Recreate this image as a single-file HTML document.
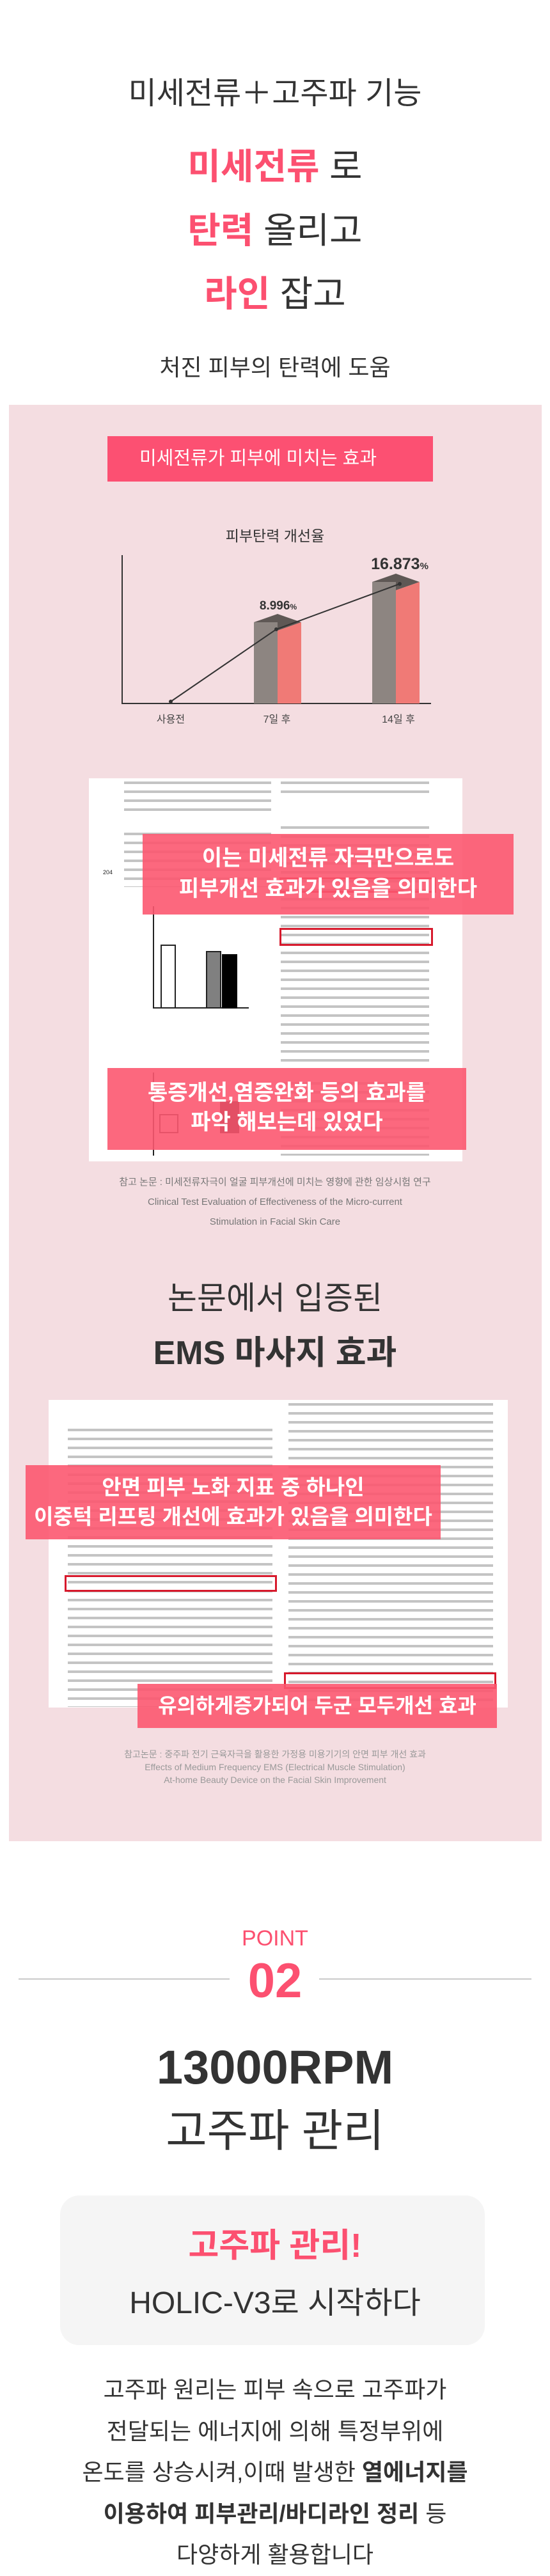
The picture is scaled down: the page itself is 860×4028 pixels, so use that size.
<!DOCTYPE html>
<html><head><meta charset="utf-8"><style>
*{margin:0;padding:0;box-sizing:border-box}
body{width:860px;height:4024px;background:#fff;position:relative;font-family:"Liberation Sans","Noto Sans CJK KR",sans-serif;color:#333;overflow:hidden}
.a{position:absolute}
.c{position:absolute;left:0;width:860px;text-align:center;white-space:nowrap}
.pk{color:#fc5070;font-weight:bold}
.paper{position:absolute;background:#fff}
.txt{position:absolute;background:repeating-linear-gradient(#fff 0 5px,#c4c4c4 5px 9px,#fff 9px 14px)}
.ov{position:absolute;background:rgba(252,88,112,0.9);color:#fff;font-weight:bold;text-align:center;white-space:nowrap}
.rb{position:absolute;border:3px solid #d7192c}
</style></head><body>
<div class="c" style="top:106px;font-size:48px;">미세전류＋고주파 기능</div>
<div class="c" style="top:228px;font-size:56px;line-height:66px"><span class="pk">미세전류</span> 로</div>
<div class="c" style="top:328px;font-size:56px;line-height:66px"><span class="pk">탄력</span> 올리고</div>
<div class="c" style="top:427px;font-size:56px;line-height:66px"><span class="pk">라인</span> 잡고</div>
<div class="c" style="top:546px;font-size:36px;">처진 피부의 탄력에 도움</div>

<div class="a" style="left:14px;top:633px;width:833px;height:2246px;background:#f4dde1"></div>
<div class="a" style="left:168px;top:682px;width:509px;height:71px;background:#fc5072;color:#fff;font-size:29px;line-height:71px;padding-left:50px">미세전류가 피부에 미치는 효과</div>
<div class="c" style="top:819px;font-size:23px;color:#333">피부탄력 개선율</div>
<svg class="a" style="left:0;top:860px" width="860" height="290">
<line x1="191" y1="8" x2="191" y2="240" stroke="#333" stroke-width="2"/>
<line x1="190" y1="240" x2="674" y2="240" stroke="#333" stroke-width="2"/>
<polygon points="397,113 434,100 471,113 434,126" fill="#5f5855"/>
<rect x="397" y="113" width="37" height="127" fill="#8d8581"/><polygon points="434,126 471,113 471,240 434,240" fill="#f07a76"/>
<polygon points="582,50 619,37 656,50 619,63" fill="#5f5855"/>
<rect x="582" y="50" width="37" height="190" fill="#8d8581"/><polygon points="619,63 656,50 656,240 619,240" fill="#f07a76"/>
<polyline points="267,237 432,124 625,53" fill="none" stroke="#333" stroke-width="2"/>
<circle cx="267" cy="237" r="3" fill="#333"/><circle cx="432" cy="124" r="3" fill="#333"/><circle cx="625" cy="53" r="3" fill="#333"/>
<text x="435" y="93" font-size="19" font-weight="bold" text-anchor="middle" fill="#333">8.996<tspan font-size="12">%</tspan></text>
<text x="625" y="30" font-size="25" font-weight="bold" text-anchor="middle" fill="#333">16.873<tspan font-size="15">%</tspan></text>
<text x="267" y="270" font-size="16" text-anchor="middle" fill="#444">사용전</text>
<text x="433" y="270" font-size="16" text-anchor="middle" fill="#444">7일 후</text>
<text x="623" y="270" font-size="16" text-anchor="middle" fill="#444">14일 후</text>
</svg>

<div class="paper" style="left:139px;top:1217px;width:584px;height:599px">
 <div class="txt" style="left:55px;top:0;width:230px;height:60px"></div>
 <div class="txt" style="left:300px;top:0;width:232px;height:30px"></div>
 <div class="txt" style="left:55px;top:80px;width:230px;height:90px"></div>
 <div class="txt" style="left:300px;top:70px;width:232px;height:380px"></div>
 <div class="a" style="left:100px;top:200px;width:150px;height:160px;border-left:2px solid #222;border-bottom:2px solid #222"></div>
 <div class="a" style="left:112px;top:260px;width:24px;height:100px;border:2px solid #222;background:#fff"></div>
 <div class="a" style="left:183px;top:270px;width:24px;height:90px;background:#808080;border:2px solid #222"></div>
 <div class="a" style="left:208px;top:275px;width:24px;height:85px;background:#000"></div>
 <div class="a" style="left:22px;top:142px;font-size:9px;color:#222">204</div>
 <div class="a" style="left:100px;top:460px;width:150px;height:130px;border-left:2px solid #222"></div>
 <div class="a" style="left:110px;top:525px;width:30px;height:30px;border:2px solid #222"></div>
 <div class="a" style="left:205px;top:505px;width:30px;height:50px;background:#000"></div>
 <div class="txt" style="left:300px;top:470px;width:232px;height:120px"></div>
 <div class="rb" style="left:298px;top:155px;width:245px;height:24px"></div>
 <div class="rb" style="left:298px;top:234px;width:240px;height:28px"></div>
</div>
<div class="ov" style="left:223px;top:1304px;width:580px;height:126px;font-size:34px;line-height:48px;padding-top:14px">이는 미세전류 자극만으로도<br>피부개선 효과가 있음을 의미한다</div>
<div class="ov" style="left:168px;top:1670px;width:561px;height:128px;font-size:34px;line-height:46px;padding-top:16px">통증개선,염증완화 등의 효과를<br>파악 해보는데 있었다</div>
<div class="c" style="top:1833px;font-size:15px;color:#777;line-height:31px">참고 논문 : 미세전류자극이 얼굴 피부개선에 미치는 영향에 관한 임상시험 연구<br>Clinical Test Evaluation of Effectiveness of the Micro-current<br>Stimulation in Facial Skin Care</div>

<div class="c" style="top:1990px;font-size:50px;color:#333">논문에서 입증된</div>
<div class="c" style="top:2073px;font-size:52px;font-weight:bold;color:#333">EMS 마사지 효과</div>

<div class="paper" style="left:76px;top:2189px;width:718px;height:481px">
 <div class="txt" style="left:30px;top:40px;width:320px;height:440px"></div>
 <div class="txt" style="left:375px;top:0;width:320px;height:480px"></div>
 <div class="rb" style="left:25px;top:274px;width:332px;height:26px"></div>
 <div class="rb" style="left:368px;top:426px;width:332px;height:26px"></div>
</div>
<div class="ov" style="left:40px;top:2291px;width:649px;height:116px;font-size:33px;line-height:46px;padding-top:12px">안면 피부 노화 지표 중 하나인<br>이중턱 리프팅 개선에 효과가 있음을 의미한다</div>
<div class="ov" style="left:215px;top:2633px;width:562px;height:69px;font-size:32px;line-height:69px">유의하게증가되어 두군 모두개선 효과</div>
<div class="c" style="top:2733px;font-size:14px;color:#999;line-height:20px">참고논문 : 중주파 전기 근육자극을 활용한 가정용 미용기기의 안면 피부 개선 효과<br>Effects of Medium Frequency EMS (Electrical Muscle Stimulation)<br>At-home Beauty Device on the Facial Skin Improvement</div>

<div class="a" style="left:29px;top:3094px;width:330px;height:1px;background:#999"></div>
<div class="a" style="left:499px;top:3094px;width:332px;height:1px;background:#999"></div>
<div class="c" style="top:3012px;font-size:34px;color:#fc5070;line-height:38px">POINT</div>
<div class="c" style="top:3055px;font-size:76px;color:#fc5070;font-weight:bold;line-height:86px">02</div>
<div class="c" style="top:3190px;font-size:74px;font-weight:bold;color:#333;line-height:86px">13000RPM</div>
<div class="c" style="top:3292px;font-size:70px;color:#333;line-height:80px">고주파 관리</div>

<div class="a" style="left:94px;top:3433px;width:664px;height:234px;background:#f5f5f5;border-radius:30px"></div>
<div class="c" style="top:3480px;font-size:52px;font-weight:bold;color:#fc5070;line-height:64px">고주파 관리!</div>
<div class="c" style="top:3572px;font-size:48px;color:#333;line-height:60px">HOLIC-V3로 시작하다</div>

<div class="c" style="top:3705px;font-size:36px;color:#333;line-height:64.5px">고주파 원리는 피부 속으로 고주파가<br>전달되는 에너지에 의해 특정부위에<br>온도를 상승시켜,이때 발생한 <b>열에너지를</b><br><b>이용하여 피부관리/바디라인 정리</b> 등<br>다양하게 활용합니다</div>
</body></html>
